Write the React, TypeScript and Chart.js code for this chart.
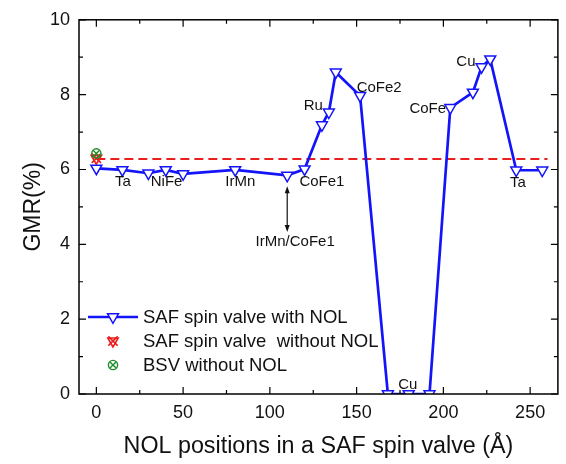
import React, { useEffect, useRef } from "react";
import { Chart, registerables } from "chart.js";

Chart.register(...registerables);

// ---- data ----
const nolPositions = [0, 15, 30, 40, 50, 80, 110, 120, 130, 134, 138, 152, 168, 180, 192, 204, 217, 222, 227, 242, 257];
const gmrWithNol = [6.03, 5.99, 5.9, 5.99, 5.88, 5.99, 5.84, 6.01, 7.19, 7.53, 8.6, 7.97, 0, 0, 0, 7.65, 8.06, 8.74, 8.95, 5.98, 5.98];
const refLineX = [0, 260];
const refLineY = [6.28, 6.28];
const safNoNolX = [0];
const safNoNolY = [6.3];
const bsvX = [0];
const bsvY = [6.43];

const xMajorTicks = [0, 50, 100, 150, 200, 250];
const xMinorTicks = [25, 75, 125, 175, 225];
const yMajorTicks = [0, 2, 4, 6, 8, 10];
const yMinorTicks = [1, 3, 5, 7, 9];

const legendLabels = ["SAF spin valve with NOL", "SAF spin valve  without NOL", "BSV without NOL"];

const annotTexts = ["Ta", "NiFe", "IrMn", "CoFe1", "Ru", "CoFe2", "CoFe", "Cu", "Ta", "Cu", "IrMn/CoFe1"];
const annotX = [15.3, 40.5, 83, 130, 125, 163, 191, 213, 243, 179.5, 114.6];
const annotY = [5.67, 5.67, 5.67, 5.67, 7.71, 8.19, 7.62, 8.88, 5.64, 0.25, 4.07];
const arrowX = 110;
const arrowYFrom = 5.55;
const arrowYTo = 4.33;

const BLUE = "rgb(20,20,250)";
const RED = "rgb(235,30,30)";
const GREEN = "rgb(30,140,40)";
const FONT = "'Liberation Sans', Arial, sans-serif";

const toPts = (xs: number[], ys: number[]) => xs.map((x, i) => ({ x, y: ys[i] }));

function downTri(ctx: CanvasRenderingContext2D, x: number, y: number, r: number) {
  const s = Math.sin(Math.PI / 3) * r;
  ctx.beginPath();
  ctx.moveTo(x, y + r);
  ctx.lineTo(x - s, y - r / 2);
  ctx.lineTo(x + s, y - r / 2);
  ctx.closePath();
}

const decorPlugin = {
  id: "decor",
  afterDatasetsDraw(chart: any) {
    const ctx: CanvasRenderingContext2D = chart.ctx;
    const xs = chart.scales.x;
    const ys = chart.scales.y;
    const { left, right, top, bottom } = chart.chartArea;
    ctx.save();

    // annotations
    ctx.fillStyle = "#111";
    ctx.font = `15px ${FONT}`;
    ctx.textAlign = "center";
    ctx.textBaseline = "middle";
    annotTexts.forEach((t, i) => {
      ctx.fillText(t, xs.getPixelForValue(annotX[i]), ys.getPixelForValue(annotY[i]));
    });

    // double arrow
    const ax = xs.getPixelForValue(arrowX);
    const ay1 = ys.getPixelForValue(arrowYFrom);
    const ay2 = ys.getPixelForValue(arrowYTo);
    ctx.strokeStyle = "#111";
    ctx.lineWidth = 1.2;
    ctx.beginPath();
    ctx.moveTo(ax, ay1 + 4);
    ctx.lineTo(ax, ay2 - 4);
    ctx.stroke();
    ctx.beginPath();
    ctx.moveTo(ax, ay1);
    ctx.lineTo(ax - 2.5, ay1 + 7);
    ctx.lineTo(ax + 2.5, ay1 + 7);
    ctx.closePath();
    ctx.fill();
    ctx.beginPath();
    ctx.moveTo(ax, ay2);
    ctx.lineTo(ax - 2.5, ay2 - 7);
    ctx.lineTo(ax + 2.5, ay2 - 7);
    ctx.closePath();
    ctx.fill();

    // legend
    const rows = [bottom - 77, bottom - 53, bottom - 29];
    const mx = left + 34;
    // row 1
    ctx.strokeStyle = BLUE;
    ctx.lineWidth = 2.7;
    ctx.beginPath();
    ctx.moveTo(left + 9, rows[0]);
    ctx.lineTo(left + 59, rows[0]);
    ctx.stroke();
    downTri(ctx, mx, rows[0], 6.3);
    ctx.fillStyle = "#fff";
    ctx.fill();
    ctx.lineWidth = 1.5;
    ctx.stroke();
    // row 2
    ctx.strokeStyle = RED;
    ctx.lineWidth = 1.6;
    downTri(ctx, mx, rows[1], 6);
    ctx.stroke();
    const d = 4.6;
    ctx.beginPath();
    ctx.moveTo(mx - d, rows[1] - d);
    ctx.lineTo(mx + d, rows[1] + d);
    ctx.moveTo(mx + d, rows[1] - d);
    ctx.lineTo(mx - d, rows[1] + d);
    ctx.stroke();
    // row 3
    ctx.strokeStyle = GREEN;
    ctx.lineWidth = 1.4;
    ctx.beginPath();
    ctx.arc(mx, rows[2], 4.6, 0, Math.PI * 2);
    ctx.stroke();
    const e = 3.3;
    ctx.beginPath();
    ctx.moveTo(mx - e, rows[2] - e);
    ctx.lineTo(mx + e, rows[2] + e);
    ctx.moveTo(mx + e, rows[2] - e);
    ctx.lineTo(mx - e, rows[2] + e);
    ctx.stroke();

    ctx.fillStyle = "#111";
    ctx.font = `18.5px ${FONT}`;
    ctx.textAlign = "left";
    ctx.textBaseline = "middle";
    legendLabels.forEach((t, i) => ctx.fillText(t, left + 64, rows[i] + 1));

    // frame
    ctx.strokeStyle = "#000";
    ctx.lineWidth = 1.5;
    ctx.strokeRect(left, top, right - left, bottom - top);

    // ticks inward
    ctx.lineWidth = 1.2;
    ctx.beginPath();
    const xt = (v: number, len: number) => {
      const p = xs.getPixelForValue(v);
      ctx.moveTo(p, bottom);
      ctx.lineTo(p, bottom - len);
      ctx.moveTo(p, top);
      ctx.lineTo(p, top + len);
    };
    const yt = (v: number, len: number) => {
      const p = ys.getPixelForValue(v);
      ctx.moveTo(left, p);
      ctx.lineTo(left + len, p);
      ctx.moveTo(right, p);
      ctx.lineTo(right - len, p);
    };
    xMajorTicks.forEach((v) => xt(v, 7));
    xMinorTicks.forEach((v) => xt(v, 4));
    yMajorTicks.forEach((v) => yt(v, 7));
    yMinorTicks.forEach((v) => yt(v, 4));
    ctx.stroke();

    ctx.restore();
  },
};

export default function App() {
  const ref = useRef<HTMLCanvasElement | null>(null);

  useEffect(() => {
    document.body.style.margin = "0";
    if (!ref.current) return;
    const chart = new Chart(ref.current, {
      type: "line",
      data: {
        datasets: [
          {
            label: legendLabels[0],
            data: toPts(nolPositions, gmrWithNol),
            borderColor: BLUE,
            borderWidth: 2.7,
            pointStyle: "triangle",
            pointRotation: 180,
            pointRadius: 6.3,
            pointBorderWidth: 1.5,
            pointBorderColor: BLUE,
            pointBackgroundColor: "#fff",
            tension: 0,
            order: 0,
          },
          {
            label: "ref",
            data: toPts(refLineX, refLineY),
            borderColor: RED,
            borderWidth: 2,
            borderDash: [9, 5],
            pointRadius: 0,
            order: 3,
          },
          {
            label: legendLabels[1],
            data: toPts(safNoNolX, safNoNolY),
            showLine: false,
            pointStyle: "triangle",
            pointRotation: 180,
            pointRadius: 6,
            pointBorderWidth: 1.6,
            pointBorderColor: RED,
            pointBackgroundColor: "rgba(0,0,0,0)",
            order: 2,
          },
          {
            label: legendLabels[1] + " x",
            data: toPts(safNoNolX, safNoNolY),
            showLine: false,
            pointStyle: "crossRot",
            pointRadius: 6.5,
            pointBorderWidth: 1.6,
            pointBorderColor: RED,
            order: 2,
          },
          {
            label: legendLabels[2],
            data: toPts(bsvX, bsvY),
            showLine: false,
            pointStyle: "circle",
            pointRadius: 4.6,
            pointBorderWidth: 1.4,
            pointBorderColor: GREEN,
            pointBackgroundColor: "rgba(0,0,0,0)",
            order: 1,
          },
          {
            label: legendLabels[2] + " x",
            data: toPts(bsvX, bsvY),
            showLine: false,
            pointStyle: "crossRot",
            pointRadius: 4.6,
            pointBorderWidth: 1.4,
            pointBorderColor: GREEN,
            order: 1,
          },
        ],
      },
      options: {
        animation: false,
        responsive: false,
        devicePixelRatio: 1,
        layout: { padding: { top: 12, right: 5, left: 0, bottom: 0 } },
        plugins: { legend: { display: false }, tooltip: { enabled: false } },
        scales: {
          x: {
            type: "linear",
            min: -10,
            max: 266,
            grid: { display: false, drawTicks: false, tickLength: 0 },
            border: { display: false },
            afterBuildTicks: (s: any) => {
              s.ticks = xMajorTicks.map((v) => ({ value: v }));
            },
            afterFit: (s: any) => {
              s.height = 70;
            },
            ticks: {
              color: "#111",
              font: { family: FONT, size: 18 },
              padding: 8,
              maxRotation: 0,
              autoSkip: false,
            },
            title: {
              display: true,
              text: "NOL positions in a SAF spin valve (Å)",
              color: "#111",
              font: { family: FONT, size: 23.3 },
              padding: { top: 0, bottom: 3 },
            },
          },
          y: {
            type: "linear",
            min: 0,
            max: 10,
            grid: { display: false, drawTicks: false, tickLength: 0 },
            border: { display: false },
            afterBuildTicks: (s: any) => {
              s.ticks = yMajorTicks.map((v) => ({ value: v }));
            },
            afterFit: (s: any) => {
              s.width = 79;
            },
            ticks: {
              color: "#111",
              font: { family: FONT, size: 18 },
              padding: 9,
            },
            title: {
              display: true,
              text: "GMR(%)",
              color: "#111",
              font: { family: FONT, size: 23 },
              padding: { top: 20, bottom: 0 },
            },
          },
        },
      },
      plugins: [decorPlugin],
    } as any);
    return () => chart.destroy();
  }, []);

  return (
    <div style={{ width: 566, height: 464 }}>
      <canvas ref={ref} width={566} height={464} style={{ display: "block" }} />
    </div>
  );
}
